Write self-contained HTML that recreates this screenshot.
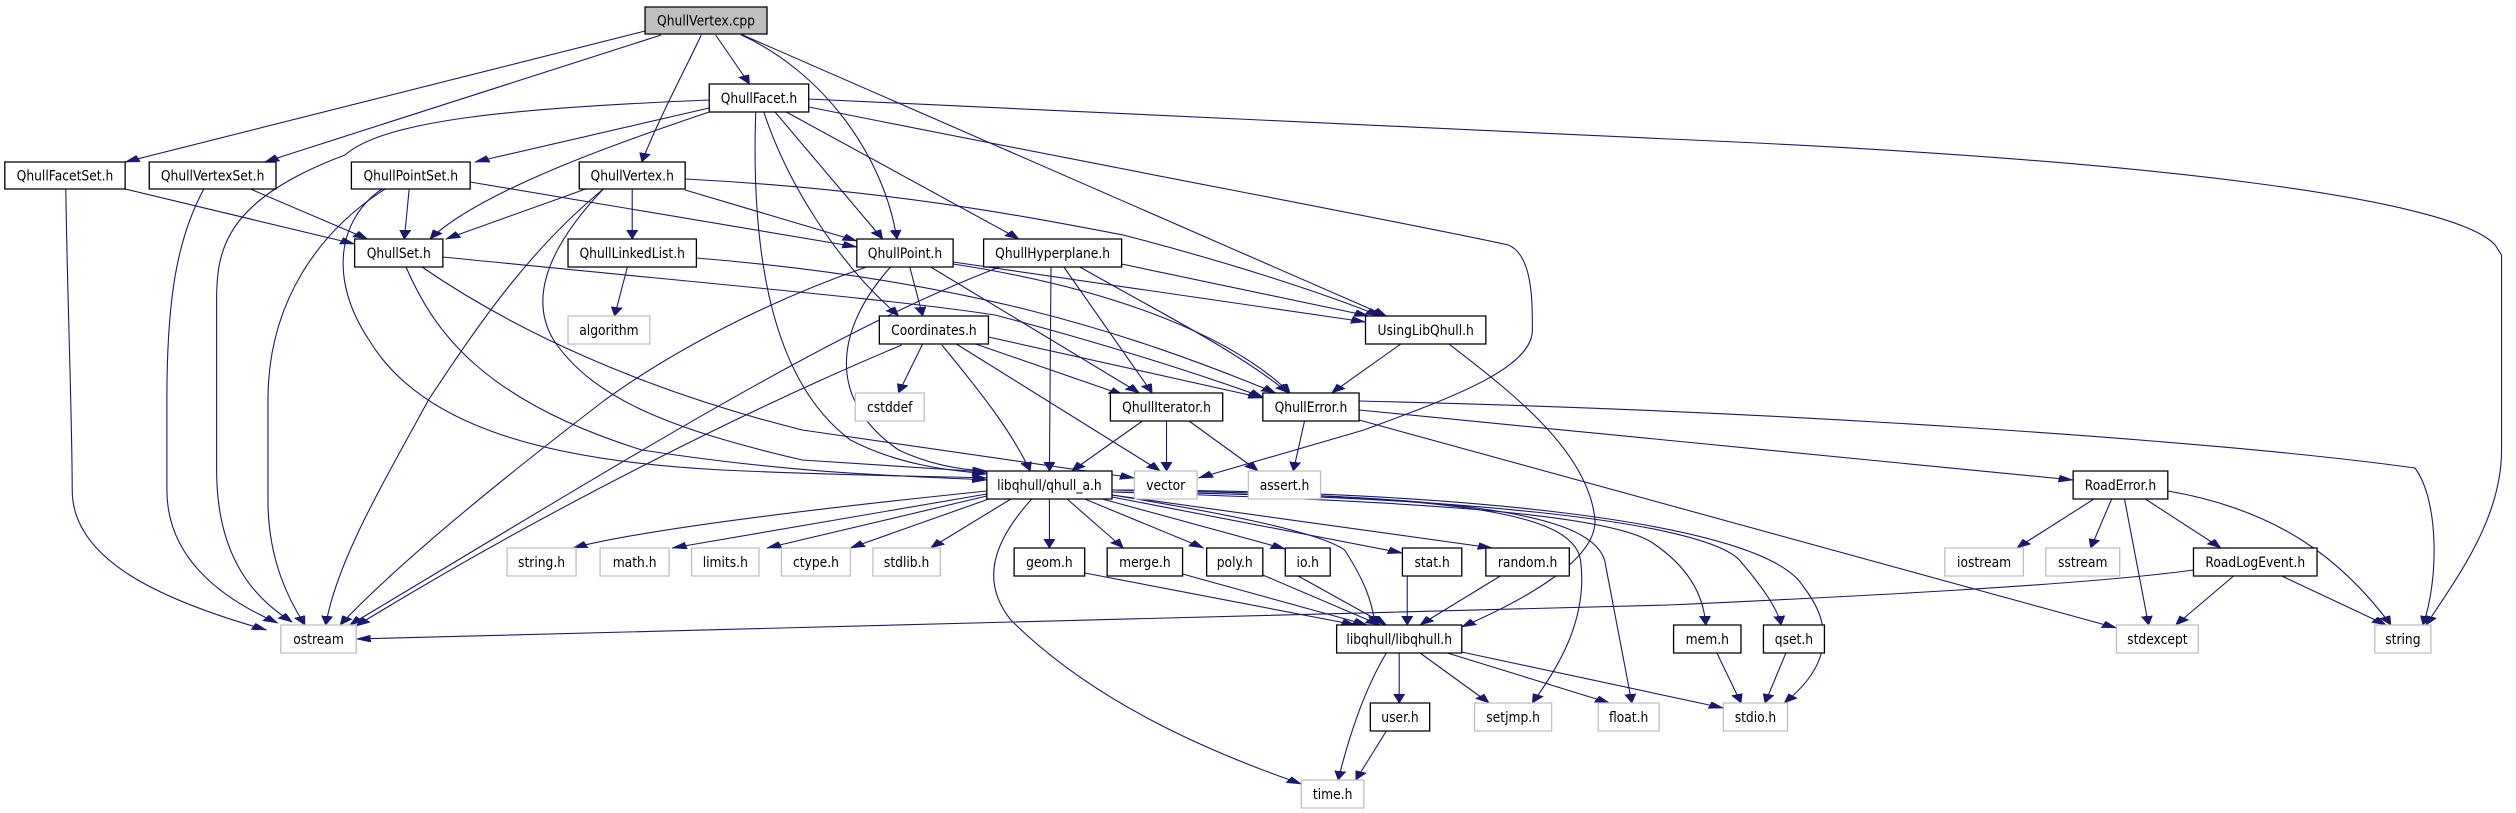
<!DOCTYPE html>
<html><head><meta charset="utf-8"><style>
html,body{margin:0;padding:0;background:#fff;}
svg{display:block;}
.e path{fill:none;stroke:#191970;stroke-width:1.1;vector-effect:non-scaling-stroke;}
.n rect{fill:#fff;stroke:#000;stroke-width:1.3;vector-effect:non-scaling-stroke;}
.n rect.g{stroke:#bfbfbf;}
.n rect.s{fill:#bfbfbf;}
text{font-family:"DejaVu Sans","Liberation Sans",sans-serif;font-size:14px;fill:#000;text-anchor:middle;}
</style></head><body>
<svg width="2516" height="813" viewBox="0 0 1568 813" preserveAspectRatio="none" xmlns="http://www.w3.org/2000/svg">
<defs><marker id="a" markerUnits="userSpaceOnUse" markerWidth="10" markerHeight="8" refX="9" refY="3.5" orient="auto"><path d="M0,0 L9,3.5 L0,7 z" fill="#191970" stroke="#191970" stroke-width="0.5"/></marker></defs>
<g class="e" marker-end="url(#a)">
<path marker-end="url(#a)" d="M402,31 L78,162"/>
<path marker-end="url(#a)" d="M412,35 L165,162"/>
<path marker-end="url(#a)" d="M437,35 C430,60 410,120 400,162"/>
<path marker-end="url(#a)" d="M446,35 L467,84"/>
<path marker-end="url(#a)" d="M462,35 C510,70 550,150 559,239"/>
<path marker-end="url(#a)" d="M460,33 L864,316"/>
<path marker-end="url(#a)" d="M442,100 C320,108 240,120 215,155 C140,200 135,250 135,300 L135,470 C135,560 160,600 182,622"/>
<path marker-end="url(#a)" d="M442,108 L296,162"/>
<path marker-end="url(#a)" d="M442,112 C390,140 300,190 268,239"/>
<path marker-end="url(#a)" d="M471,112 C468,250 480,380 530,440 C560,465 590,470 615,474"/>
<path marker-end="url(#a)" d="M476,112 C490,180 520,260 560,316"/>
<path marker-end="url(#a)" d="M483,112 L550,239"/>
<path marker-end="url(#a)" d="M490,112 L635,239"/>
<path marker-end="url(#a)" d="M504,99 L1040,139 C1350,160 1530,200 1555,245 L1559,255 L1559,450 C1559,520 1530,580 1512,625"/>
<path marker-end="url(#a)" d="M504,107 C700,170 900,230 940,245 C955,255 955,300 955,330 C955,370 900,400 850,430 L747,478"/>
<path marker-end="url(#a)" d="M78,189 L221,244"/>
<path marker-end="url(#a)" d="M41,189 C42,300 45,420 45,490 C45,560 100,600 166,630"/>
<path marker-end="url(#a)" d="M156,189 L229,239"/>
<path marker-end="url(#a)" d="M127,189 C110,240 104,300 104,400 L104,490 C104,560 140,600 173,623"/>
<path marker-end="url(#a)" d="M255,189 L252,239"/>
<path marker-end="url(#a)" d="M240,189 C200,230 167,300 167,400 L167,500 C167,560 180,600 190,625"/>
<path marker-end="url(#a)" d="M238,189 C210,220 205,280 230,340 C260,420 330,460 450,470 C530,476 580,476 615,478"/>
<path marker-end="url(#a)" d="M293,182 L534,247"/>
<path marker-end="url(#a)" d="M365,189 L278,239"/>
<path marker-end="url(#a)" d="M394,189 L394,239"/>
<path marker-end="url(#a)" d="M427,190 L534,241"/>
<path marker-end="url(#a)" d="M427,179 C560,190 650,220 700,235 C760,260 820,290 860,316"/>
<path marker-end="url(#a)" d="M376,189 C330,250 300,320 267,400 C240,480 210,560 203,625"/>
<path marker-end="url(#a)" d="M376,189 C340,250 330,300 345,340 C370,400 420,430 500,460 L615,472"/>
<path marker-end="url(#a)" d="M253,267 C270,330 300,400 400,450 C500,475 570,476 615,480"/>
<path marker-end="url(#a)" d="M263,267 C320,330 400,390 500,430 L707,478"/>
<path marker-end="url(#a)" d="M276,257 C450,285 560,300 620,315 C680,340 740,370 787,397"/>
<path marker-end="url(#a)" d="M391,267 L383,316"/>
<path marker-end="url(#a)" d="M434,258 C600,280 700,330 795,393"/>
<path marker-end="url(#a)" d="M567,267 L575,316"/>
<path marker-end="url(#a)" d="M540,267 C480,300 420,350 377,400 C320,470 250,560 212,625"/>
<path marker-end="url(#a)" d="M555,267 C520,330 515,400 560,450 C580,465 600,470 615,471"/>
<path marker-end="url(#a)" d="M580,267 L710,393"/>
<path marker-end="url(#a)" d="M594,264 C700,290 770,340 804,393"/>
<path marker-end="url(#a)" d="M594,262 L851,322"/>
<path marker-end="url(#a)" d="M623,267 C520,330 400,450 218,625"/>
<path marker-end="url(#a)" d="M655,267 L654,471"/>
<path marker-end="url(#a)" d="M663,267 L718,393"/>
<path marker-end="url(#a)" d="M673,267 C720,310 770,350 803,393"/>
<path marker-end="url(#a)" d="M699,264 L853,316"/>
<path marker-end="url(#a)" d="M575,344 L560,393"/>
<path marker-end="url(#a)" d="M562,345 C480,400 350,500 222,626"/>
<path marker-end="url(#a)" d="M587,345 C610,390 630,430 642,471"/>
<path marker-end="url(#a)" d="M596,344 L723,471"/>
<path marker-end="url(#a)" d="M608,344 L700,395"/>
<path marker-end="url(#a)" d="M616,337 L787,398"/>
<path marker-end="url(#a)" d="M873,344 L830,393"/>
<path marker-end="url(#a)" d="M903,344 C940,390 990,450 994,520 C995,560 950,600 911,627"/>
<path marker-end="url(#a)" d="M712,421 L668,471"/>
<path marker-end="url(#a)" d="M727,421 L727,471"/>
<path marker-end="url(#a)" d="M741,421 L784,471"/>
<path marker-end="url(#a)" d="M813,421 L806,471"/>
<path marker-end="url(#a)" d="M847,410 C1000,435 1150,458 1292,480"/>
<path marker-end="url(#a)" d="M847,401 C1100,410 1380,440 1505,468 C1520,500 1520,580 1510,625"/>
<path marker-end="url(#a)" d="M847,420 L1319,628"/>
<path marker-end="url(#a)" d="M615,491 C500,510 400,530 357,548"/>
<path marker-end="url(#a)" d="M615,494 L419,548"/>
<path marker-end="url(#a)" d="M615,496 L478,548"/>
<path marker-end="url(#a)" d="M618,498 L530,548"/>
<path marker-end="url(#a)" d="M630,499 L580,548"/>
<path marker-end="url(#a)" d="M654,499 L654,548"/>
<path marker-end="url(#a)" d="M665,499 L700,548"/>
<path marker-end="url(#a)" d="M676,499 L750,548"/>
<path marker-end="url(#a)" d="M687,499 L801,549"/>
<path marker-end="url(#a)" d="M693,497 L874,553"/>
<path marker-end="url(#a)" d="M693,495 L930,548"/>
<path marker-end="url(#a)" d="M643,499 C620,540 610,580 630,620 C680,700 750,750 811,784"/>
<path marker-end="url(#a)" d="M693,495 C750,510 820,530 838,550 C850,580 855,600 857,625"/>
<path marker-end="url(#a)" d="M693,492 C850,500 1000,510 1030,543 C1055,570 1062,600 1063,625"/>
<path marker-end="url(#a)" d="M693,492 C900,495 1060,520 1084,560 C1100,590 1108,610 1110,625"/>
<path marker-end="url(#a)" d="M693,490 C900,490 1100,520 1124,587 C1150,640 1130,680 1112,703"/>
<path marker-end="url(#a)" d="M693,490 C900,495 980,510 985,560 C990,620 970,670 955,703"/>
<path marker-end="url(#a)" d="M693,490 C900,495 990,510 1000,560 L1017,703"/>
<path marker-end="url(#a)" d="M872,653 L872,703"/>
<path marker-end="url(#a)" d="M864,653 C850,690 840,740 834,780"/>
<path marker-end="url(#a)" d="M885,653 L928,703"/>
<path marker-end="url(#a)" d="M902,653 L1003,703"/>
<path marker-end="url(#a)" d="M911,652 L1074,708"/>
<path marker-end="url(#a)" d="M676,573 L845,625"/>
<path marker-end="url(#a)" d="M737,574 L852,625"/>
<path marker-end="url(#a)" d="M787,575 L860,625"/>
<path marker-end="url(#a)" d="M809,576 L864,625"/>
<path marker-end="url(#a)" d="M877,576 L877,625"/>
<path marker-end="url(#a)" d="M935,576 L885,625"/>
<path marker-end="url(#a)" d="M864,731 L845,780"/>
<path marker-end="url(#a)" d="M1070,653 L1085,703"/>
<path marker-end="url(#a)" d="M1113,653 L1100,703"/>
<path marker-end="url(#a)" d="M1305,499 L1257,548"/>
<path marker-end="url(#a)" d="M1316,499 L1303,548"/>
<path marker-end="url(#a)" d="M1324,499 L1339,625"/>
<path marker-end="url(#a)" d="M1337,499 L1384,548"/>
<path marker-end="url(#a)" d="M1351,491 C1420,510 1460,560 1490,625"/>
<path marker-end="url(#a)" d="M1392,576 L1356,625"/>
<path marker-end="url(#a)" d="M1422,576 L1487,625"/>
<path marker-end="url(#a)" d="M1367,570 C1300,585 1150,597 1040,605 L222,639"/>
</g>
<g class="n">
<rect class="s" x="402" y="7" width="76" height="27"/><text transform="translate(440,25.5) scale(0.548,1)">QhullVertex.cpp</text>
<rect x="442" y="84" width="62" height="28"/><text transform="translate(473,103) scale(0.548,1)">QhullFacet.h</text>
<rect x="3" y="162" width="75" height="27"/><text transform="translate(40.5,180.5) scale(0.548,1)">QhullFacetSet.h</text>
<rect x="93" y="162" width="79" height="27"/><text transform="translate(132.5,180.5) scale(0.548,1)">QhullVertexSet.h</text>
<rect x="219" y="162" width="74" height="27"/><text transform="translate(256,180.5) scale(0.548,1)">QhullPointSet.h</text>
<rect x="361" y="162" width="66" height="27"/><text transform="translate(394,180.5) scale(0.548,1)">QhullVertex.h</text>
<rect x="221" y="239" width="55" height="28"/><text transform="translate(248.5,258) scale(0.548,1)">QhullSet.h</text>
<rect x="354" y="239" width="80" height="28"/><text transform="translate(394,258) scale(0.548,1)">QhullLinkedList.h</text>
<rect class="g" x="354" y="316" width="51" height="28"/><text transform="translate(379.5,335) scale(0.548,1)">algorithm</text>
<rect x="534" y="239" width="60" height="28"/><text transform="translate(564,258) scale(0.548,1)">QhullPoint.h</text>
<rect x="613" y="239" width="86" height="28"/><text transform="translate(656,258) scale(0.548,1)">QhullHyperplane.h</text>
<rect x="548" y="316" width="68" height="28"/><text transform="translate(582,335) scale(0.548,1)">Coordinates.h</text>
<rect x="851" y="316" width="75" height="28"/><text transform="translate(888.5,335) scale(0.548,1)">UsingLibQhull.h</text>
<rect class="g" x="533" y="393" width="43" height="28"/><text transform="translate(554.5,412) scale(0.548,1)">cstddef</text>
<rect x="692" y="393" width="70" height="28"/><text transform="translate(727,412) scale(0.548,1)">QhullIterator.h</text>
<rect x="787" y="393" width="60" height="28"/><text transform="translate(817,412) scale(0.548,1)">QhullError.h</text>
<rect x="615" y="471" width="78" height="28"/><text transform="translate(654,490) scale(0.548,1)">libqhull/qhull_a.h</text>
<rect class="g" x="707" y="471" width="39" height="28"/><text transform="translate(726.5,490) scale(0.548,1)">vector</text>
<rect class="g" x="778" y="471" width="45" height="28"/><text transform="translate(800.5,490) scale(0.548,1)">assert.h</text>
<rect x="1292" y="471" width="59" height="28"/><text transform="translate(1321.5,490) scale(0.548,1)">RoadError.h</text>
<rect class="g" x="316" y="548" width="43" height="28"/><text transform="translate(337.5,567) scale(0.548,1)">string.h</text>
<rect class="g" x="374" y="548" width="43" height="28"/><text transform="translate(395.5,567) scale(0.548,1)">math.h</text>
<rect class="g" x="431" y="548" width="42" height="28"/><text transform="translate(452,567) scale(0.548,1)">limits.h</text>
<rect class="g" x="487" y="548" width="43" height="28"/><text transform="translate(508.5,567) scale(0.548,1)">ctype.h</text>
<rect class="g" x="544" y="548" width="42" height="28"/><text transform="translate(565,567) scale(0.548,1)">stdlib.h</text>
<rect x="632" y="548" width="44" height="28"/><text transform="translate(654,567) scale(0.548,1)">geom.h</text>
<rect x="690" y="548" width="47" height="28"/><text transform="translate(713.5,567) scale(0.548,1)">merge.h</text>
<rect x="752" y="548" width="35" height="28"/><text transform="translate(769.5,567) scale(0.548,1)">poly.h</text>
<rect x="801" y="548" width="28" height="28"/><text transform="translate(815,567) scale(0.548,1)">io.h</text>
<rect x="874" y="548" width="37" height="28"/><text transform="translate(892.5,567) scale(0.548,1)">stat.h</text>
<rect x="926" y="548" width="52" height="28"/><text transform="translate(952,567) scale(0.548,1)">random.h</text>
<rect class="g" x="1212" y="548" width="49" height="28"/><text transform="translate(1236.5,567) scale(0.548,1)">iostream</text>
<rect class="g" x="1275" y="548" width="46" height="28"/><text transform="translate(1298,567) scale(0.548,1)">sstream</text>
<rect x="1367" y="548" width="77" height="28"/><text transform="translate(1405.5,567) scale(0.548,1)">RoadLogEvent.h</text>
<rect class="g" x="175" y="625" width="47" height="28"/><text transform="translate(198.5,644) scale(0.548,1)">ostream</text>
<rect x="833" y="625" width="78" height="28"/><text transform="translate(872,644) scale(0.548,1)">libqhull/libqhull.h</text>
<rect x="1043" y="625" width="42" height="28"/><text transform="translate(1064,644) scale(0.548,1)">mem.h</text>
<rect x="1099" y="625" width="38" height="28"/><text transform="translate(1118,644) scale(0.548,1)">qset.h</text>
<rect class="g" x="1319" y="625" width="51" height="28"/><text transform="translate(1344.5,644) scale(0.548,1)">stdexcept</text>
<rect class="g" x="1480" y="625" width="35" height="28"/><text transform="translate(1497.5,644) scale(0.548,1)">string</text>
<rect x="854" y="703" width="37" height="28"/><text transform="translate(872.5,722) scale(0.548,1)">user.h</text>
<rect class="g" x="919" y="703" width="48" height="28"/><text transform="translate(943,722) scale(0.548,1)">setjmp.h</text>
<rect class="g" x="996" y="703" width="38" height="28"/><text transform="translate(1015,722) scale(0.548,1)">float.h</text>
<rect class="g" x="1074" y="703" width="40" height="28"/><text transform="translate(1094,722) scale(0.548,1)">stdio.h</text>
<rect class="g" x="811" y="780" width="39" height="28"/><text transform="translate(830.5,799) scale(0.548,1)">time.h</text>
</g>
</svg>
</body></html>
